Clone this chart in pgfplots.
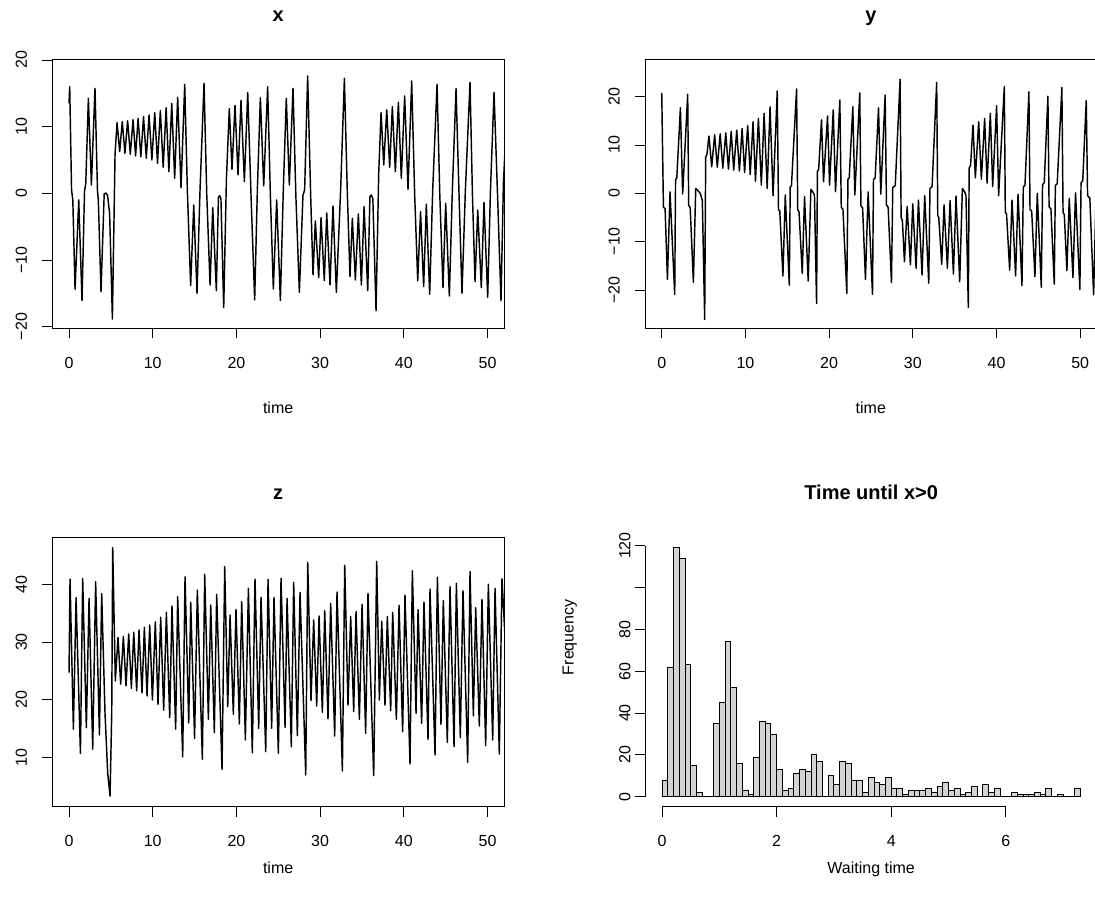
\documentclass[border=0pt]{standalone}
\usepackage{fontspec}
\setmainfont{Liberation Sans}
\usepackage{pgfplots}
\pgfplotsset{compat=1.18}

\definecolor{histgray}{HTML}{D3D3D3}

\pgfplotsset{
  rpanel/.style={
    scale only axis, width=451.7pt, height=269pt,
    anchor=south west,
    axis line style={line width=0.9pt},
    tick align=outside, xtick pos=bottom, ytick pos=left,
    major tick length=10pt,
    every tick/.style={black, line width=0.9pt},
    tick label style={font=\fontsize{16}{19}\selectfont},
    xticklabel style={anchor=base, yshift=-29.7pt},
    yticklabel style={xshift=-15.3pt, rotate=90, anchor=base},
    xmin=-2.0, xmax=51.97,
    xtick={0,10,20,30,40,50}, xticklabels={0,10,20,30,40,50},
  },
  rline/.style={black, line width=1.45pt, line join=round, mark=none},
}

\begin{document}
\begin{tikzpicture}
\useasboundingbox (0pt,0pt) rectangle (1095pt,-899pt);

% x
\begin{axis}[rpanel, name=px, at={(52.3pt,-328.3pt)},
  ymin=-20.25, ymax=20.1,
  ytick={-20,-10,0,10,20}, yticklabels={−20,−10,0,10,20}]
\addplot[rline] coordinates {
(0,13.5) (0.08,16.0) (0.3,0.5) (0.45,-1.0) (0.72,-14.4) (1.16,-1.0) (1.55,-16.1) (1.85,0.3) (2.0,1.5) (2.31,14.25) (2.67,1.25) (3.1,15.75) (3.4,0.3) (3.5,-1.0) (3.82,-14.75) (4.2,-0.1) (4.4,0.05) (4.6,-0.3) (4.85,-3.0) (5.18,-18.85) (5.5,6.0) (5.74,10.6)
(6.05,6.25) (6.36,10.74) (6.68,6.0) (7.0,10.89) (7.32,5.85) (7.65,11.04) (7.95,5.6) (8.25,11.24) (8.58,5.49) (8.9,11.49) (9.23,5.25) (9.56,11.74) (9.9,5.0) (10.24,12.09) (10.57,4.5) (10.91,12.39) (11.25,3.9) (11.6,12.84) (11.93,3.24) (12.27,13.49) (12.62,2.25) (12.98,14.39) (13.38,0.84) (13.82,16.34)
(14.14,0.3) (14.53,-13.85) (14.9,-1.75) (15.29,-15.0) (15.65,0.5) (16.13,16.5) (16.45,0.0) (16.85,-13.75) (17.17,-2.15) (17.6,-14.6) (17.85,-0.6) (18.0,-0.35) (18.15,-0.8) (18.48,-17.15) (18.8,2.0) (19.15,12.7) (19.47,3.6) (19.83,13.2) (20.19,2.75) (20.55,13.95) (20.95,1.75) (21.35,15.1) (21.75,-0.5) (22.18,-16.0) (22.5,0.5) (22.86,14.35) (23.26,1.1) (23.73,16.0) (24.05,0.0) (24.41,-14.35) (24.81,-1.0) (25.25,-16.1) (25.6,0.5) (25.96,14.25) (26.32,1.25) (26.76,15.75) (27.1,-0.3) (27.52,-14.85) (27.95,-0.3) (28.15,0.5) (28.51,17.6)
(28.87,-0.3) (29.15,-12.25) (29.43,-4.15) (29.83,-12.65) (30.11,-3.65) (30.5,-13.1) (30.79,-2.95) (31.18,-13.75) (31.54,-1.9) (31.94,-14.85) (32.45,0.5) (32.9,17.25) (33.25,0.0) (33.57,-12.5) (33.85,-3.75) (34.21,-13.0) (34.57,-3.1) (34.93,-13.75) (35.25,-2.0) (35.69,-14.6) (35.95,-0.5) (36.12,-0.25) (36.3,-0.8) (36.68,-17.6) (37.0,3.0) (37.28,12.1) (37.6,4.25) (37.96,12.5) (38.31,3.9) (38.63,13.0) (38.99,3.25) (39.35,13.65) (39.7,2.25) (40.1,14.6) (40.5,0.6) (40.94,16.85)
(41.3,-0.3) (41.66,-13.15) (42.0,-2.75) (42.37,-14.0) (42.69,-1.65) (43.09,-15.15) (43.45,0.5) (43.97,16.35) (44.3,-0.3) (44.68,-14.15) (45.0,-1.5) (45.44,-15.4) (45.8,0.5) (46.24,15.7) (46.6,-0.3) (46.95,-15.0) (47.35,0.3) (47.91,16.65) (48.2,-0.3) (48.51,-13.25) (48.83,-2.5) (49.26,-14.15) (49.58,-1.35) (50.02,-15.6) (50.35,0.3) (50.78,15.15) (51.2,-0.3) (51.61,-16.1) (51.9,1.5) (52.3,12.0)
};
\end{axis}

% y
\begin{axis}[rpanel, name=py, at={(645pt,-328.3pt)},
  ymin=-27.93, ymax=27.73,
  ytick={-20,-10,0,10,20}, yticklabels={−20,−10,0,10,20}]
\addplot[rline] coordinates {
(0,20.8) (0.2,-2.8) (0.4,-3.2) (0.68,-17.8) (0.99,0.3) (1.55,-20.9) (1.65,2.8) (1.8,3.2) (2.23,17.7) (2.5,-0.15) (3.1,20.5) (3.22,-2.5) (3.4,-3.0) (3.78,-18.4) (4.06,1.0) (4.3,0.6) (4.6,0.0) (4.85,-1.5) (5.13,-26.1) (5.25,7.5) (5.4,8.0) (5.64,11.85)
(5.97,5.5) (6.32,12.1) (6.64,5.4) (6.98,12.3) (7.3,5.2) (7.65,12.5) (7.97,5.0) (8.3,12.8) (8.6,4.8) (8.96,13.1) (9.28,4.6) (9.6,13.4) (9.9,4.3) (10.27,14.0) (10.57,3.9) (10.91,14.8) (11.2,2.5) (11.55,15.5) (11.9,1.7) (12.23,16.55) (12.6,1.0) (12.94,17.9) (13.3,-0.5) (13.8,21.2)
(13.95,-3.4) (14.1,-3.6) (14.48,-17.1) (14.76,-0.35) (15.24,-19.0) (15.35,1.3) (15.5,1.6) (16.11,21.6) (16.25,-3.4) (16.4,-3.8) (16.79,-16.55) (17.06,-0.7) (17.5,-18.15) (17.82,0.8) (18.1,0.2) (18.25,-0.5) (18.5,-22.8) (18.6,4.5) (18.75,5.0) (19.09,15.2) (19.33,2.4) (19.81,16.0) (20.05,1.7) (20.49,17.25) (20.76,0.35) (21.28,19.3) (21.45,-2.9) (21.65,-3.3) (22.11,-20.7) (22.25,2.9) (22.4,3.2) (22.83,17.9) (23.07,-0.35) (23.66,20.8) (23.8,-2.6) (24.0,-3.0) (24.34,-17.8) (24.66,0.3) (25.18,-20.9) (25.3,2.8) (25.5,3.2) (25.9,17.7) (26.17,-0.15) (26.69,20.35) (26.85,-2.4) (27.05,-2.9) (27.45,-18.5) (27.6,1.2) (27.9,1.6) (28.48,23.6)
(28.6,-5.0) (28.75,-5.6) (29.0,-14.15) (29.32,-2.75) (29.71,-14.8) (29.99,-2.2) (30.39,-15.5) (30.67,-1.4) (31.1,-16.9) (31.42,-0.5) (31.9,-18.6) (32.05,1.0) (32.3,1.4) (32.85,22.95) (32.98,-4.6) (33.1,-5.0) (33.45,-14.7) (33.73,-2.4) (34.13,-15.5) (34.45,-1.5) (34.85,-16.7) (35.16,-0.55) (35.6,-18.3) (35.92,1.0) (36.2,0.3) (36.35,-0.5) (36.63,-23.6) (36.73,5.2) (36.9,5.8) (37.19,14.1) (37.47,3.2) (37.87,14.8) (38.19,2.9) (38.58,15.5) (38.87,2.1) (39.26,16.55) (39.54,1.4) (40.01,18.1) (40.25,-0.5) (40.93,22.1)
(41.05,-3.9) (41.2,-4.3) (41.57,-15.9) (41.85,-1.4) (42.28,-17.1) (42.57,-0.2) (43.04,-19.1) (43.2,1.3) (43.4,1.7) (43.87,21.0) (44.0,-3.3) (44.2,-3.7) (44.59,-17.25) (44.87,0.0) (45.35,-19.45) (45.5,1.8) (45.7,2.2) (46.14,20.1) (46.28,-2.8) (46.5,-3.2) (46.9,-18.8) (47.03,1.6) (47.25,2.0) (47.81,21.9) (47.95,-4.0) (48.1,-4.4) (48.41,-16.0) (48.69,-1.05) (49.13,-17.45) (49.44,0.1) (49.96,-19.9) (50.1,2.2) (50.3,2.6) (50.72,19.2) (50.88,-0.5) (51.15,-1.0) (51.6,-21.0) (51.9,0.0) (52.3,10.0)
};
\end{axis}

% z
\begin{axis}[rpanel, name=pz, at={(52.3pt,-806.7pt)},
  ymin=1.46, ymax=48.08,
  ytick={10,20,30,40}, yticklabels={10,20,30,40}]
\addplot[rline] coordinates {
(0,24.7) (0.12,40.9) (0.52,14.9) (0.84,37.7) (1.36,10.7) (1.63,41.0) (2.07,15.15) (2.39,37.55) (2.83,11.45) (3.18,40.45) (3.63,13.9) (3.9,38.4) (4.3,17.6) (4.62,7.25) (4.9,3.3) (5.1,17.6) (5.22,46.35)
(5.53,23.25) (5.85,30.8) (6.17,22.7) (6.49,31.0) (6.81,22.4) (7.13,31.4) (7.45,22.0) (7.73,31.7) (8.08,21.55) (8.36,32.1) (8.72,21.2) (9.0,32.55) (9.32,20.65) (9.64,32.95) (9.96,19.95) (10.31,33.5) (10.63,19.2) (10.95,34.3) (11.31,18.2) (11.63,35.15) (12.03,16.9) (12.3,36.25) (12.74,14.9) (12.98,37.85) (13.58,10.1) (13.86,41.3)
(14.3,16.0) (14.54,36.9) (15.0,13.3) (15.33,39.0) (15.93,9.67) (16.21,41.73) (16.65,16.6) (16.93,36.42) (17.36,14.29) (17.64,38.26) (18.28,7.94) (18.6,43.06) (18.96,18.8) (19.24,34.68) (19.63,17.47) (19.95,35.67) (20.35,15.79) (20.63,37.0) (21.07,13.02) (21.43,39.3) (21.9,10.82) (22.22,40.92) (22.66,15.04) (22.94,37.74) (23.5,10.99) (23.78,40.86) (24.21,15.04) (24.49,37.74) (25.01,10.71) (25.33,41.04) (25.81,15.21) (26.05,37.57) (26.56,11.86) (26.84,40.35) (27.28,13.77) (27.6,38.61) (28.28,6.95) (28.52,43.81)
(28.91,19.84) (29.23,33.82) (29.59,18.91) (29.87,34.51) (30.27,17.81) (30.55,35.43) (30.94,16.66) (31.26,36.71) (31.74,13.71) (32.02,38.67) (32.66,7.65) (32.94,43.29) (33.33,19.08) (33.65,34.4) (34.01,17.93) (34.29,35.26) (34.69,16.6) (35.01,36.53) (35.44,14.17) (35.72,38.44) (36.4,6.84) (36.76,43.98)
(37.08,19.95) (37.36,33.64) (37.75,19.08) (38.03,34.4) (38.43,18.1) (38.67,35.15) (39.11,16.6) (39.43,36.36) (39.86,14.46) (40.14,38.15) (40.74,8.86) (41.02,42.37) (41.46,17.64) (41.7,35.61) (42.13,15.91) (42.41,36.94) (42.89,13.13) (43.13,39.19) (43.73,10.42) (44.01,41.21) (44.44,15.73) (44.72,37.17) (45.2,12.61) (45.52,39.6) (46.0,11.86) (46.28,40.17) (46.75,13.42) (47.07,38.9) (47.63,9.15) (47.91,42.19) (48.31,17.24) (48.59,35.95) (49.02,15.45) (49.34,37.4) (49.78,12.04) (50.1,40.0) (50.62,13.02) (50.9,39.3) (51.41,10.59) (51.73,40.98) (52.3,25.0)
};
\end{axis}

% histogram
\begin{axis}[name=ph, at={(645.3pt,-806.7pt)}, anchor=south west,
  scale only axis, width=451.7pt, height=269pt,
  xmin=-0.292, xmax=7.592, ymin=-4.76, ymax=123.76,
  axis lines=left, axis line style={draw=none, -},
  clip=false,
  tick align=outside, major tick length=10pt,
  every tick/.style={black, line width=0.9pt},
  tick label style={font=\fontsize{16}{19}\selectfont},
  xticklabel style={anchor=base, yshift=-29.7pt},
  yticklabel style={xshift=-5pt, rotate=90, anchor=base},
  xtick={0,2,4,6}, xticklabels={0,2,4,6},
  ytick={0,20,40,60,80,100,120}, yticklabels={0,20,40,60,80,,120}]
\addplot[ybar interval, fill=histgray, draw=black, line width=0.9pt] coordinates {
(0.0,8) (0.1,62) (0.2,119) (0.3,114) (0.4,63) (0.5,15) (0.6,2) (0.7,0) (0.8,0) (0.9,35)
(1.0,45) (1.1,74) (1.2,52) (1.3,16) (1.4,3) (1.5,1) (1.6,19) (1.7,36) (1.8,35) (1.9,30)
(2.0,13) (2.1,3) (2.2,4) (2.3,11) (2.4,13) (2.5,12) (2.6,20) (2.7,17) (2.8,0) (2.9,10)
(3.0,6) (3.1,17) (3.2,16) (3.3,8) (3.4,8) (3.5,2) (3.6,9) (3.7,7) (3.8,6) (3.9,9)
(4.0,4) (4.1,4) (4.2,1) (4.3,3) (4.4,3) (4.5,3) (4.6,4) (4.7,2) (4.8,5) (4.9,7)
(5.0,3) (5.1,4) (5.2,1) (5.3,2) (5.4,5) (5.5,0) (5.6,6) (5.7,2) (5.8,4) (5.9,0)
(6.0,0) (6.1,2) (6.2,1) (6.3,1) (6.4,1) (6.5,2) (6.6,1) (6.7,4) (6.8,0) (6.9,1)
(7.0,0) (7.1,0) (7.2,4) (7.3,4)
};
\draw[line width=0.9pt] (axis cs:0,-4.76) -- (axis cs:6,-4.76);
\draw[line width=0.9pt] (axis cs:-0.292,0) -- (axis cs:-0.292,120);
\end{axis}

% titles and labels
\tikzset{ttl/.style={anchor=base, font=\bfseries\fontsize{20}{24}\selectfont},
         lbl/.style={anchor=base, font=\fontsize{16}{19}\selectfont}}
\node[ttl] at ([yshift=38pt]px.north) {x};
\node[ttl] at ([yshift=38pt]py.north) {y};
\node[ttl] at ([yshift=38pt]pz.north) {z};
\node[ttl] at ([yshift=38pt]ph.north) {Time until x>0};
\node[lbl] at ([yshift=-84.7pt]px.south) {time};
\node[lbl] at ([yshift=-84.7pt]py.south) {time};
\node[lbl] at ([yshift=-66.7pt]pz.south) {time};
\node[lbl] at ([yshift=-66.7pt]ph.south) {Waiting time};
\node[lbl, rotate=90] at ([xshift=-71.7pt, yshift=35pt]ph.west) {Frequency};
\end{tikzpicture}
\end{document}
